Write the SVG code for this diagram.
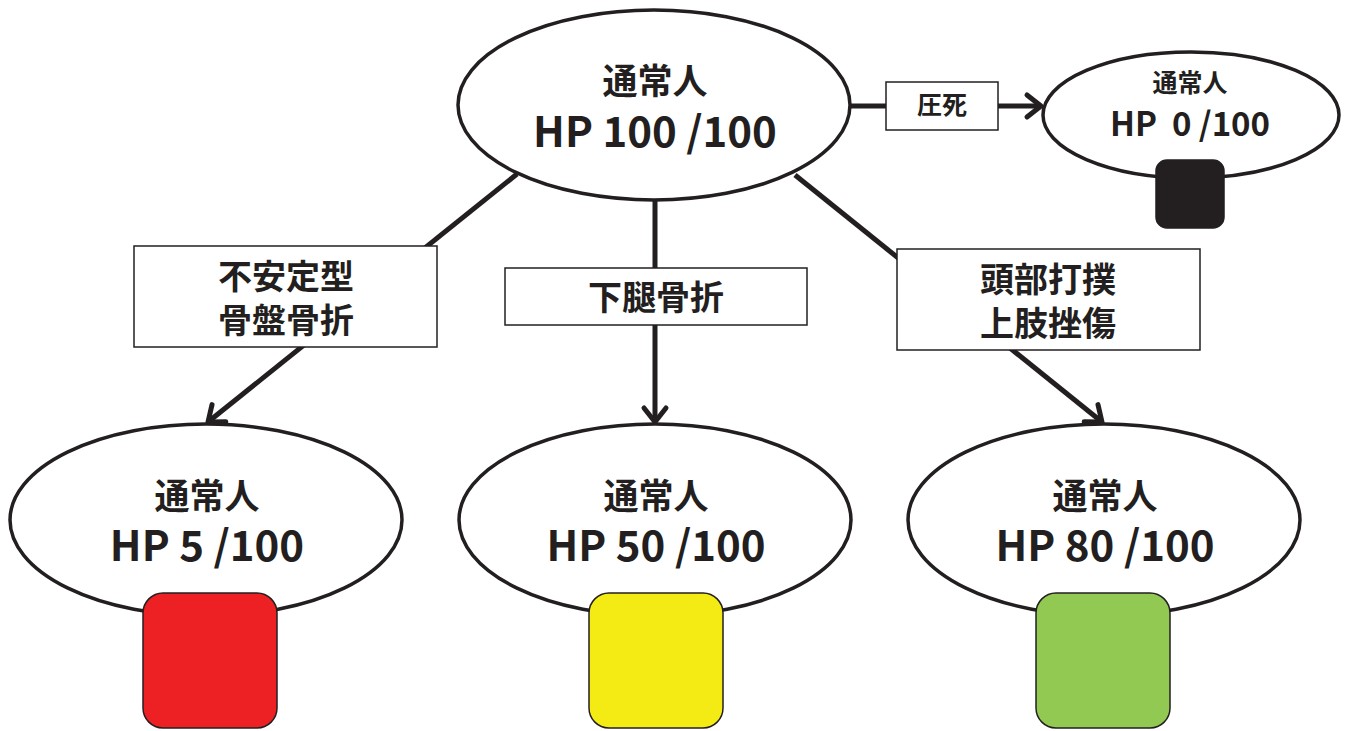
<svg xmlns="http://www.w3.org/2000/svg" width="1347" height="731" viewBox="0 0 1347 731">
<style>
.ell{fill:#fff;stroke:#231F20;stroke-width:3.5}
.lbl{fill:#fff;stroke:#231F20;stroke-width:1.5}
.sq{stroke:#231F20;stroke-width:1.5}
.con{stroke:#231F20;stroke-width:5;fill:none}
text{font-family:"Noto Sans CJK JP","Noto Sans",sans-serif;font-weight:bold;fill:#231F20;text-anchor:middle}
.t1{font-size:35px}
.t2{font-size:42px}
.t3{font-size:34px}
</style>
<defs>
<marker id="arr" markerUnits="userSpaceOnUse" markerWidth="40" markerHeight="40" viewBox="-20 -20 40 40" refX="0" refY="0" orient="auto">
<path d="M -14 -11 L 0 0 L -14 11" fill="none" stroke="#231F20" stroke-width="5" stroke-linecap="round" stroke-linejoin="round"/>
</marker>
</defs>
<g id="connectors">
<line class="con" x1="517" y1="174" x2="208" y2="422" marker-end="url(#arr)"/>
<line class="con" x1="655" y1="200" x2="655" y2="422" marker-end="url(#arr)"/>
<line class="con" x1="795" y1="175" x2="1102" y2="422" marker-end="url(#arr)"/>
<line class="con" x1="850" y1="106" x2="1041" y2="106" marker-end="url(#arr)"/>
</g>
<g id="label-pelvis">
<rect class="lbl" x="134" y="246" width="303" height="101"/>
<text class="t3" x="286" y="289">不安定型</text>
<text class="t3" x="286" y="333">骨盤骨折</text>
</g>
<g id="label-leg">
<rect class="lbl" x="505" y="268" width="302" height="57"/>
<text class="t3" x="656" y="310">下腿骨折</text>
</g>
<g id="label-head">
<rect class="lbl" x="897" y="249" width="303" height="101"/>
<text class="t3" x="1048" y="292">頭部打撲</text>
<text class="t3" x="1048" y="336">上肢挫傷</text>
</g>
<g id="label-death">
<rect class="lbl" x="886" y="82" width="112" height="48"/>
<text x="942" y="114" style="font-size:25px">圧死</text>
</g>
<g id="node-top">
<ellipse class="ell" cx="654" cy="105" rx="196" ry="95"/>
<text class="t1" x="655" y="94">通常人</text>
<text class="t2" x="655" y="147">HP 100 /100</text>
</g>
<g id="node-dead">
<ellipse class="ell" cx="1191" cy="115" rx="148" ry="63"/>
<text x="1190" y="92" style="font-size:25px">通常人</text>
<text x="1190" y="136" style="font-size:33px" xml:space="preserve">HP  0 /100</text>
<rect class="sq" x="1156" y="160" width="68" height="68" rx="11" fill="#231F20"/>
</g>
<g id="node-red">
<ellipse class="ell" cx="206" cy="520" rx="196" ry="96"/>
<text class="t1" x="207" y="509">通常人</text>
<text class="t2" x="207" y="561">HP 5 /100</text>
<rect class="sq" x="143" y="593" width="134" height="135" rx="20" fill="#ED2024"/>
</g>
<g id="node-yellow">
<ellipse class="ell" cx="655" cy="520" rx="196" ry="96"/>
<text class="t1" x="656" y="509">通常人</text>
<text class="t2" x="656" y="561">HP 50 /100</text>
<rect class="sq" x="589" y="593" width="134" height="135" rx="20" fill="#F5EB14"/>
</g>
<g id="node-green">
<ellipse class="ell" cx="1104" cy="520" rx="196" ry="96"/>
<text class="t1" x="1105" y="509">通常人</text>
<text class="t2" x="1105" y="561">HP 80 /100</text>
<rect class="sq" x="1036" y="593" width="134" height="135" rx="20" fill="#92C953"/>
</g>
</svg>
